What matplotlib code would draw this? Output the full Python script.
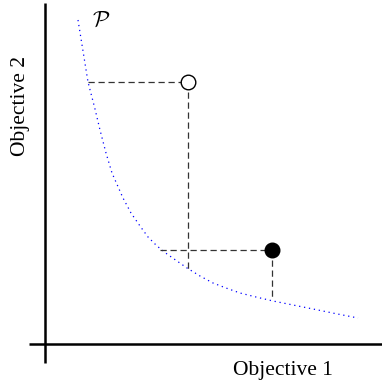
import matplotlib
matplotlib.use("Agg")
import matplotlib.pyplot as plt

plt.rcParams['mathtext.fontset'] = 'cm'

# Pareto front (objective space units)
pareto_x = [3.3, 4.3, 5.0, 5.5, 6.1, 6.7, 7.8, 8.6, 9.5, 10.3, 11.2, 12.2, 13.2, 14.2, 15.5, 16.8, 18.1, 19.5, 21.1, 22.8, 24.8, 26.8, 29.0, 31.3]
pareto_y = [32.4, 26.2, 23.5, 21.4, 19.1, 17.1, 14.6, 13.1, 11.8, 10.7, 9.8, 9.0, 8.3, 7.6, 6.8, 6.1, 5.6, 5.1, 4.7, 4.3, 3.9, 3.5, 3.05, 2.6]

# Two solutions: open (dominated) and filled
sol_names = ["open", "filled"]
sol_x = [14.3, 22.7]
sol_y = [26.2, 9.4]
# projection endpoints on the front
proj_x = [4.3, 11.5]   # horizontal dashed line start
proj_y = [7.4, 4.4]    # vertical dashed line end

fig = plt.figure(figsize=(3.82, 3.87), dpi=100)
ax = fig.add_axes([0, 0, 1, 1])
ax.set_xlim(-4.5, 33.7)
ax.set_ylim(-4.3, 34.4)
ax.axis('off')

# axes lines
ax.plot([-1.6, 33.7], [0, 0], color='black', lw=1.8, solid_capstyle='butt')
ax.plot([0, 0], [-1.9, 34.1], color='black', lw=1.8, solid_capstyle='butt')

# Pareto front
ax.plot(pareto_x, pareto_y, color='blue', lw=0.9, linestyle=(0, (1, 3)))

dash = (0, (5, 3))
for i, name in enumerate(sol_names):
    ax.plot([proj_x[i], sol_x[i]], [sol_y[i], sol_y[i]], color='#333333', lw=0.9, linestyle=dash)
    ax.plot([sol_x[i], sol_x[i]], [sol_y[i], proj_y[i]], color='#333333', lw=0.9, linestyle=dash)
    face = 'white' if name == 'open' else 'black'
    ax.plot([sol_x[i]], [sol_y[i]], marker='o', markersize=10.5, markerfacecolor=face,
            markeredgecolor='black', markeredgewidth=1.0, zorder=5)

ax.text(5.6, 32.3, r'$\mathcal{P}$', fontsize=16, ha='center', va='center')
ax.text(23.8, -2.6, 'Objective 1', fontsize=15.5, family='Liberation Serif', ha='center', va='center')
ax.text(-2.4, 23.8, 'Objective 2', fontsize=15.5, family='Liberation Serif', ha='center', va='center', rotation=90)

fig.savefig('out.png', dpi=100)
